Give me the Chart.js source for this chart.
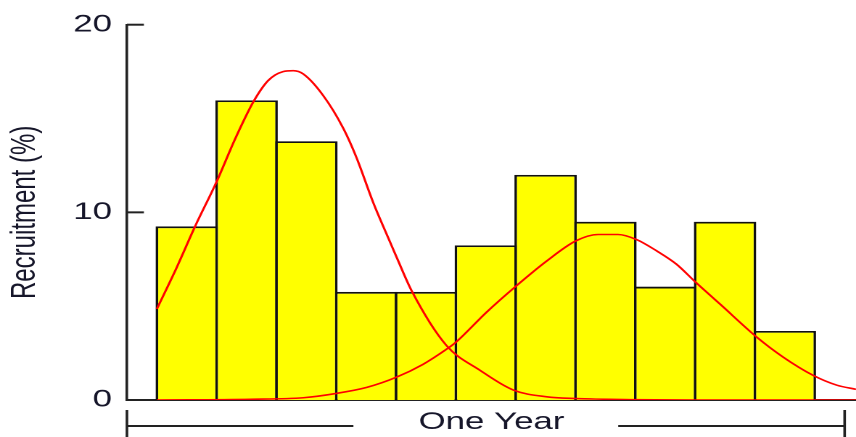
<!DOCTYPE html>
<html>
<head>
<meta charset="utf-8">
<script src="https://cdn.jsdelivr.net/npm/chart.js@4/dist/chart.umd.min.js"></script>
<style>
  html, body { margin: 0; padding: 0; background: #ffffff; overflow: hidden; }
  #wrap { width: 590px; height: 437px; transform: scaleX(1.450847); transform-origin: 0 0; }
</style>
</head>
<body>
<div id="wrap"><canvas id="c" width="590" height="437"></canvas></div>
<script>
// ---- data ----
const binIndex = [1, 2, 3, 4, 5, 6, 7, 8, 9, 10, 11];
const recruitment = [9.25, 15.97, 13.79, 5.76, 5.76, 8.24, 12.0, 9.5, 6.04, 9.5, 3.68];

const curve1X = [0, 0.33, 0.64, 1.0, 1.3, 1.61, 1.86, 2.11, 2.28, 2.45, 2.78, 3.12, 3.34, 3.62, 3.84, 4.01, 4.26, 4.84, 5.4, 5.96, 6.52, 7.0, 8.0, 9.0, 10.0, 11.0, 11.69];
const curve1Y = [4.85, 7.05, 9.26, 11.64, 13.85, 15.87, 17.02, 17.5, 17.55, 17.37, 16.23, 14.46, 12.9, 10.5, 8.85, 7.6, 5.82, 2.91, 1.59, 0.53, 0.17, 0.08, 0.02, 0, 0, 0, 0];

const curve2X = [0, 1.56, 2.45, 3.0, 3.51, 4.01, 4.45, 4.84, 5.0, 5.51, 6.01, 6.52, 7.0, 7.38, 7.71, 8.02, 8.36, 8.69, 9.0, 9.42, 10.03, 10.47, 10.97, 11.37, 11.69];
const curve2Y = [0, 0.04, 0.12, 0.35, 0.67, 1.22, 1.9, 2.7, 3.08, 4.67, 6.08, 7.41, 8.47, 8.82, 8.82, 8.55, 7.94, 7.23, 6.3, 5.1, 3.35, 2.29, 1.32, 0.79, 0.57];

const yTicks = [0, 10, 20];
const xTitle = 'One Year';
const yTitle = 'Recruitment (%)';

// ---- build library tables ----
const barData = binIndex.map((b, i) => ({ x: b - 0.5, y: recruitment[i] }));
const c1Data = curve1X.map((x, i) => ({ x: x, y: curve1Y[i] }));
const c2Data = curve2X.map((x, i) => ({ x: x, y: curve2Y[i] }));

const FONT = { family: '"Liberation Sans", Arial, sans-serif', size: 24 };
const INK = '#16162a';

const decor = {
  id: 'decor',
  afterDatasetsDraw(chart) {
    const { ctx, chartArea, scales } = chart;
    const y = scales.y;
    ctx.save();
    ctx.strokeStyle = '#222222';
    ctx.lineWidth = 2;
    y.ticks.forEach(t => {
      if (t.value === 0) return;
      const py = y.getPixelForValue(t.value);
      ctx.beginPath();
      ctx.moveTo(chartArea.left, py);
      ctx.lineTo(chartArea.left + 11.7, py);
      ctx.stroke();
    });
    ctx.restore();
  },
  afterDraw(chart) {
    const { ctx, chartArea, scales } = chart;
    const x = scales.x;
    const left = chartArea.left;
    const right = x.getPixelForValue(binIndex[binIndex.length - 1] + 0.5);
    const mid = (left + right) / 2;
    ctx.save();
    ctx.font = FONT.size + 'px ' + FONT.family;
    const tw = ctx.measureText(xTitle).width;
    const half = tw / 2 + 41;
    const ly = 426;
    ctx.strokeStyle = '#222222';
    ctx.lineWidth = 2;
    ctx.beginPath();
    ctx.moveTo(left, ly); ctx.lineTo(mid - half, ly);
    ctx.moveTo(mid + half, ly); ctx.lineTo(right, ly);
    ctx.stroke();
    ctx.lineWidth = 1.8;
    ctx.beginPath();
    ctx.moveTo(left, 410); ctx.lineTo(left, 437);
    ctx.moveTo(right, 410); ctx.lineTo(right, 437);
    ctx.stroke();
    ctx.restore();
  }
};

new Chart(document.getElementById('c'), {
  type: 'bar',
  data: {
    datasets: [
      {
        type: 'line',
        data: c1Data,
        borderColor: '#ff0000',
        borderWidth: 1.6,
        pointRadius: 0,
        cubicInterpolationMode: 'monotone',
        fill: false,
        order: 0
      },
      {
        type: 'line',
        data: c2Data,
        borderColor: '#ff0000',
        borderWidth: 1.6,
        pointRadius: 0,
        cubicInterpolationMode: 'monotone',
        fill: false,
        order: 0
      },
      {
        type: 'bar',
        data: barData,
        backgroundColor: '#ffff00',
        borderColor: '#111111',
        borderWidth: 1.8,
        borderSkipped: 'start',
        inflateAmount: 0,
        barPercentage: 1.0437,
        categoryPercentage: 1,
        order: 1
      }
    ]
  },
  options: {
    responsive: false,
    devicePixelRatio: 2,
    animation: false,
    layout: { padding: { top: 22, left: 0, right: 0, bottom: 0 } },
    plugins: { legend: { display: false }, tooltip: { enabled: false } },
    scales: {
      x: {
        type: 'linear',
        offset: false,
        min: -0.5,
        max: 11.69,
        grid: { display: false, drawTicks: false, offset: false },
        border: { display: true, color: '#222222', width: 2 },
        ticks: { display: false },
        title: { display: true, text: xTitle, color: INK, font: FONT, padding: { top: 8, bottom: 0 } },
        afterFit(s) { s.height = 37; }
      },
      y: {
        type: 'linear',
        min: yTicks[0],
        max: yTicks[yTicks.length - 1],
        afterBuildTicks(s) { s.ticks = yTicks.map(v => ({ value: v })); },
        grid: { display: false, drawTicks: false },
        border: { display: true, color: '#222222', width: 1.8 },
        ticks: { color: INK, font: FONT, padding: 10.3 },
        title: { display: true, text: yTitle, color: INK, font: FONT, padding: { top: 2.8, bottom: 0 } },
        afterFit(s) { s.width = 87.5; }
      }
    }
  },
  plugins: [decor]
});
</script>
</body>
</html>
